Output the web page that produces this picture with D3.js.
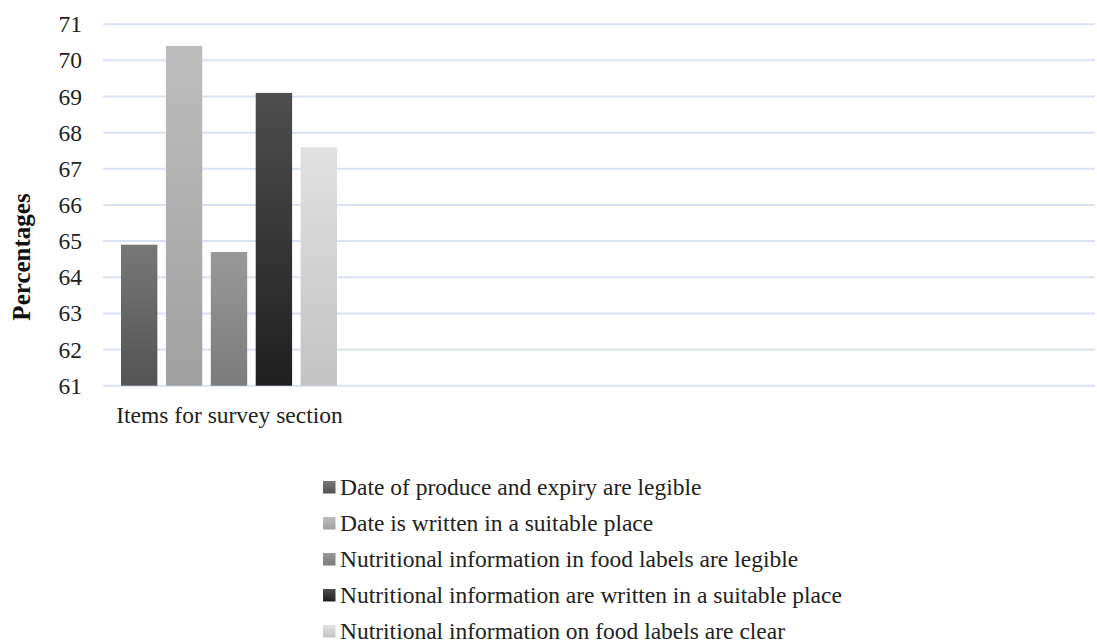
<!DOCTYPE html>
<html>
<head>
<meta charset="utf-8">
<script src="https://cdn.jsdelivr.net/npm/d3@7"></script>
<style>
  body { margin: 0; background: #fff; }
  svg { font-family: "Liberation Serif", "Times New Roman", serif; }
</style>
</head>
<body>
<svg id="chart"></svg>
<script>
// data
let categories = ["Items for survey section"];
let seriesNames = [
    "Date of produce and expiry are legible",
    "Date is written in a suitable place",
    "Nutritional information in food labels are legible",
    "Nutritional information are written in a suitable place",
    "Nutritional information on food labels are clear"
];
let seriesValues = [64.9, 70.4, 64.7, 69.1, 67.6];
let yTicks = [61, 62, 63, 64, 65, 66, 67, 68, 69, 70, 71];
// gradient top / bottom shades for each series
let gradTop = ["#777777", "#bdbdbd", "#999999", "#4e4e4e", "#e1e1e1"];
let gradBottom = ["#545454", "#a1a1a1", "#7b7b7b", "#1f1f1f", "#c3c3c3"];

let width = 1097;
let height = 643;
let plotLeft = 103, plotRight = 1095, plotTop = 24.2, plotBottom = 385.7;

let svg = d3.select("#chart").attr("width", width).attr("height", height);

let defs = svg.append("defs");
seriesNames.forEach((name, i) => {
    let g = defs.append("linearGradient")
        .attr("id", "grad" + i)
        .attr("x1", 0).attr("y1", 0).attr("x2", 0).attr("y2", 1);
    g.append("stop").attr("offset", "0%").attr("stop-color", gradTop[i]);
    g.append("stop").attr("offset", "100%").attr("stop-color", gradBottom[i]);
});

let y = d3.scaleLinear().domain([61, 71]).range([plotBottom, plotTop]);

// Excel reserved room for four category slots, only the first is used
let x0 = d3.scaleBand()
    .domain(categories)
    .range([plotLeft, plotLeft + (plotRight - plotLeft) / 4]);

let x1 = d3.scaleBand()
    .domain(d3.range(seriesNames.length))
    .range([121 - plotLeft, 337 - plotLeft])
    .paddingInner(0.19);

// gridlines
svg.append("g")
    .selectAll("line")
    .data(yTicks)
    .join("line")
    .attr("x1", plotLeft).attr("x2", plotRight)
    .attr("y1", d => y(d)).attr("y2", d => y(d))
    .attr("stroke", "#d9e2f3")
    .attr("stroke-width", 2);

// y axis labels
let yAxis = d3.axisLeft(y).tickValues(yTicks).tickSize(0).tickPadding(0);
let ya = svg.append("g")
    .attr("transform", "translate(82,0)")
    .call(yAxis);
ya.select(".domain").remove();
ya.selectAll("text")
    .attr("font-family", "Liberation Serif, Times New Roman, serif")
    .attr("font-size", 23.5)
    .attr("fill", "#222");

// bars
svg.append("g")
    .selectAll("rect")
    .data(seriesValues)
    .join("rect")
    .attr("x", (d, i) => x0(categories[0]) + x1(i))
    .attr("width", x1.bandwidth())
    .attr("y", d => y(d))
    .attr("height", d => y(61) - y(d))
    .attr("fill", (d, i) => "url(#grad" + i + ")");

// category label
svg.append("text")
    .attr("x", 229.5)
    .attr("y", 423)
    .attr("text-anchor", "middle")
    .attr("font-size", 23.5)
    .attr("fill", "#222")
    .text(categories[0]);

// y axis title
svg.append("text")
    .attr("transform", "translate(29.5,257) rotate(-90)")
    .attr("text-anchor", "middle")
    .attr("font-size", 25)
    .attr("font-weight", "bold")
    .attr("fill", "#111")
    .text("Percentages");

// legend
let legend = svg.append("g")
    .selectAll("g")
    .data(seriesNames)
    .join("g")
    .attr("transform", (d, i) => "translate(323," + (495 + i * 36) + ")");

legend.append("rect")
    .attr("x", 0).attr("y", -14)
    .attr("width", 12.5).attr("height", 12.5)
    .attr("fill", (d, i) => "url(#grad" + i + ")");

legend.append("text")
    .attr("x", 17)
    .attr("y", 0)
    .attr("font-size", 23.5)
    .attr("fill", "#222")
    .text(d => d);
</script>
</body>
</html>
